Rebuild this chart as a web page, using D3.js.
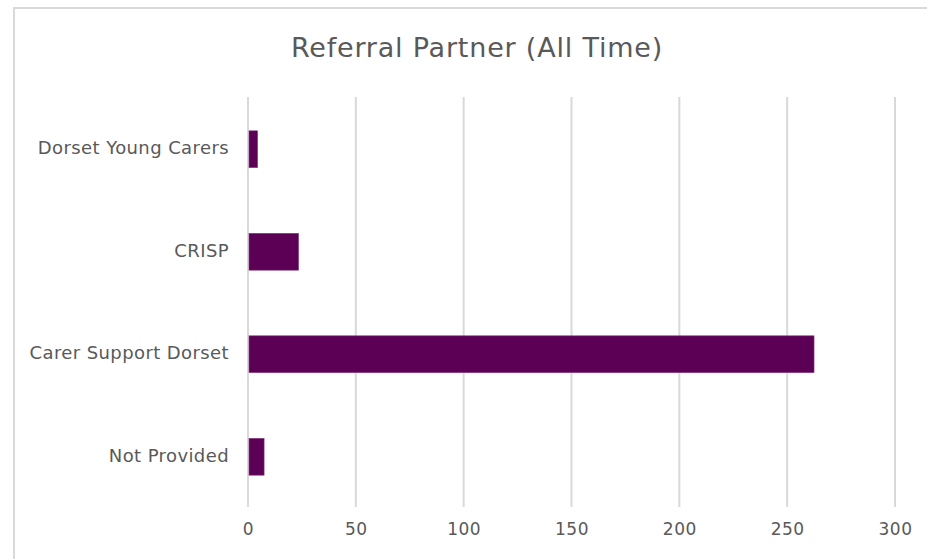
<!DOCTYPE html>
<html>
<head>
<meta charset="utf-8">
<script src="https://cdn.jsdelivr.net/npm/d3@7"></script>
<style>
  body { margin: 0; background: #fff; }
  text { font-family: "DejaVu Sans", sans-serif; fill: #595959; }
</style>
</head>
<body>
<div id="chart"></div>
<script>
// Chart data
var categories = ["Dorset Young Carers", "CRISP", "Carer Support Dorset", "Not Provided"];
var referrals = [4, 23, 262, 7];
var tickValues = [0, 50, 100, 150, 200, 250, 300];
var title = "Referral Partner (All Time)";

var width = 927;
var height = 559;
var margin = { top: 97, right: 32, bottom: 52, left: 248 };

var barColor = '#5B0055';
var gridColor = '#d9d9d9';
var fontFamily = '"DejaVu Sans", sans-serif';

var svg = d3.select("#chart")
  .append("svg")
  .attr("width", width)
  .attr("height", height);

// outer chart frame (right and bottom edges fall off the picture)
svg.append("rect")
  .attr("x", 14)
  .attr("y", 8)
  .attr("width", width + 20)
  .attr("height", height + 20)
  .style("fill", "#fff")
  .style("stroke", gridColor)
  .style("stroke-width", 2);

var x = d3.scaleLinear()
  .domain([0, 300])
  .range([margin.left, width - margin.right]);

var y = d3.scaleBand()
  .domain(categories)
  .range([margin.top, height - margin.bottom])
  .paddingInner(0.64)
  .paddingOuter(0.32);

// vertical gridlines
svg.append("g")
  .selectAll("line")
  .data(tickValues)
  .enter()
  .append("line")
  .attr("x1", function(d) { return x(d); })
  .attr("x2", function(d) { return x(d); })
  .attr("y1", margin.top)
  .attr("y2", height - margin.bottom)
  .style("stroke", gridColor)
  .style("stroke-width", 2);

// bars
svg.append("g")
  .selectAll("rect")
  .data(referrals)
  .enter()
  .append("rect")
  .attr("x", x(0) + 1)
  .attr("y", function(d, i) { return y(categories[i]) + 1; })
  .attr("width", function(d) { return x(d) - x(0); })
  .attr("height", y.bandwidth())
  .style("fill", barColor)
  .style("stroke", "#8a3f86")
  .style("stroke-width", 0.6);

// x axis labels
var xAxis = d3.axisBottom(x).tickValues(tickValues).tickSize(0).tickPadding(16);
var xg = svg.append("g")
  .attr("transform", "translate(0," + (height - margin.bottom) + ")")
  .call(xAxis);
xg.select(".domain").remove();
xg.selectAll("text")
  .style("font-size", "17px")
  .style("font-family", fontFamily)
  .style("letter-spacing", "0.5px")
  .attr("fill", "#595959");

// y axis labels
var yAxis = d3.axisLeft(y).tickSize(0).tickPadding(19);
var yg = svg.append("g")
  .attr("transform", "translate(" + margin.left + ",0)")
  .call(yAxis);
yg.select(".domain").remove();
yg.selectAll("text")
  .style("font-size", "18px")
  .style("font-family", fontFamily)
  .style("letter-spacing", "0.4px")
  .attr("fill", "#595959");

// title
svg.append("text")
  .attr("x", 477)
  .attr("y", 57)
  .attr("text-anchor", "middle")
  .style("font-size", "27px")
  .style("letter-spacing", "0.8px")
  .text(title);
</script>
</body>
</html>
